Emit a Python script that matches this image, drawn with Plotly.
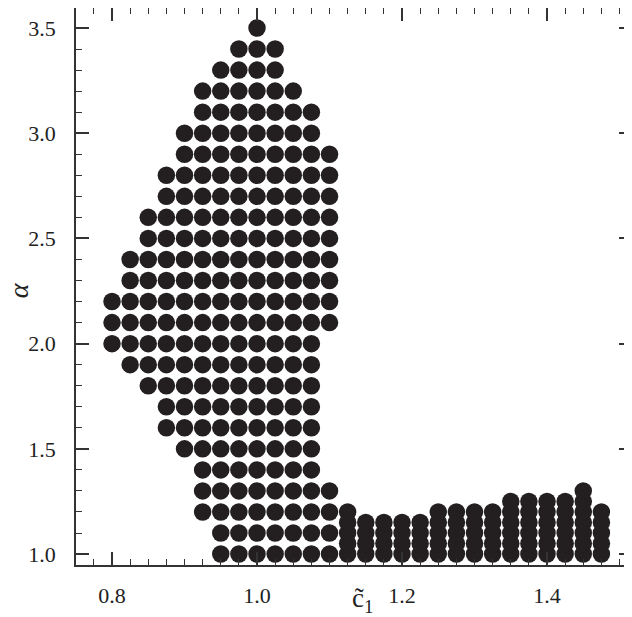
import plotly.graph_objects as go

# Left block: rows of alpha (step 0.1) with c1 extent per row
alpha_rows = [3.5, 3.4, 3.3, 3.2, 3.1, 3.0, 2.9, 2.8, 2.7, 2.6, 2.5, 2.4, 2.3,
              2.2, 2.1, 2.0, 1.9, 1.8, 1.7, 1.6, 1.5, 1.4, 1.3, 1.2, 1.1, 1.0]
c1_row_min = [1.0, 0.975, 0.95, 0.925, 0.925, 0.9, 0.9, 0.875, 0.875, 0.85, 0.85, 0.825, 0.825,
              0.8, 0.8, 0.8, 0.825, 0.85, 0.875, 0.875, 0.9, 0.925, 0.925, 0.925, 0.95, 0.95]
c1_row_max = [1.0, 1.025, 1.025, 1.05, 1.075, 1.075, 1.1, 1.1, 1.1, 1.1, 1.1, 1.1, 1.1,
              1.1, 1.1, 1.075, 1.075, 1.075, 1.075, 1.075, 1.075, 1.075, 1.1, 1.1, 1.1, 1.1]
c1_step = 0.025

# Right block: columns of c1 with alpha from 1.0 up to a top value (step 0.05)
c1_cols = [1.125, 1.15, 1.175, 1.2, 1.225, 1.25, 1.275, 1.3, 1.325,
           1.35, 1.375, 1.4, 1.425, 1.45, 1.475]
alpha_col_max = [1.2, 1.15, 1.15, 1.15, 1.15, 1.2, 1.2, 1.2, 1.2,
                 1.25, 1.25, 1.25, 1.25, 1.3, 1.2]
alpha_col_min = 1.0
alpha_step = 0.05

xs, ys = [], []
for a, lo, hi in zip(alpha_rows, c1_row_min, c1_row_max):
    n = int(round((hi - lo) / c1_step)) + 1
    for i in range(n):
        xs.append(lo + i * c1_step)
        ys.append(a)
for c, top in zip(c1_cols, alpha_col_max):
    n = int(round((top - alpha_col_min) / alpha_step)) + 1
    for j in range(n):
        xs.append(c)
        ys.append(alpha_col_min + j * alpha_step)

x_ticks = [0.8, 1.0, 1.2, 1.4]
y_ticks = [1.0, 1.5, 2.0, 2.5, 3.0, 3.5]

FONT = "Liberation Serif"
INK = "#231f20"
AX = "#333333"
TXT = "#222222"

fig = go.Figure()
fig.add_trace(go.Scatter(
    x=xs, y=ys, mode="markers",
    marker=dict(size=17.5, color=INK, line=dict(width=0)),
    showlegend=False, hoverinfo="skip"))

fig.update_layout(
    width=624, height=609,
    margin=dict(l=68, r=0, t=0, b=52, autoexpand=False),
    paper_bgcolor="white", plot_bgcolor="white",
    font=dict(family=FONT, color=TXT, size=22),
)
fig.update_xaxes(
    range=[0.75034, 1.5172], autorange=False,
    showgrid=False, zeroline=False,
    showline=True, linecolor=AX, linewidth=1.6, mirror="allticks",
    ticks="inside", ticklen=13, tickwidth=1.6, tickcolor=AX,
    tickvals=x_ticks, ticktext=[f"{v:.1f}" for v in x_ticks],
    ticklabelstandoff=10,
    tickfont=dict(family=FONT, size=22, color=TXT),
    minor=dict(tick0=0.8, dtick=0.025, ticks="inside", ticklen=6,
               tickwidth=1.2, tickcolor=AX, showgrid=False),
    automargin=False,
)
fig.update_yaxes(
    range=[0.948, 3.595], autorange=False,
    showgrid=False, zeroline=False,
    showline=True, linecolor=AX, linewidth=1.6, mirror="allticks",
    ticks="inside", ticklen=13, tickwidth=1.6, tickcolor=AX,
    tickvals=y_ticks, ticktext=[f"{v:.1f}" for v in y_ticks],
    ticklabelstandoff=14,
    tickfont=dict(family=FONT, size=22, color=TXT),
    minor=dict(tick0=1.0, dtick=0.1, ticks="inside", ticklen=6,
               tickwidth=1.2, tickcolor=AX, showgrid=False),
    automargin=False,
)
fig.add_annotation(
    text="c\u0303<sub>1</sub>", xref="paper", yref="paper",
    x=0.515, y=-0.062, xanchor="center", yanchor="middle",
    showarrow=False, font=dict(family=FONT, size=27, color=TXT))
fig.add_annotation(
    text="<i>α</i>", xref="paper", yref="paper",
    x=-0.102, y=0.494, xanchor="center", yanchor="middle", textangle=-90,
    showarrow=False, font=dict(family=FONT, size=28, color=TXT))

fig.write_html("out.html")
